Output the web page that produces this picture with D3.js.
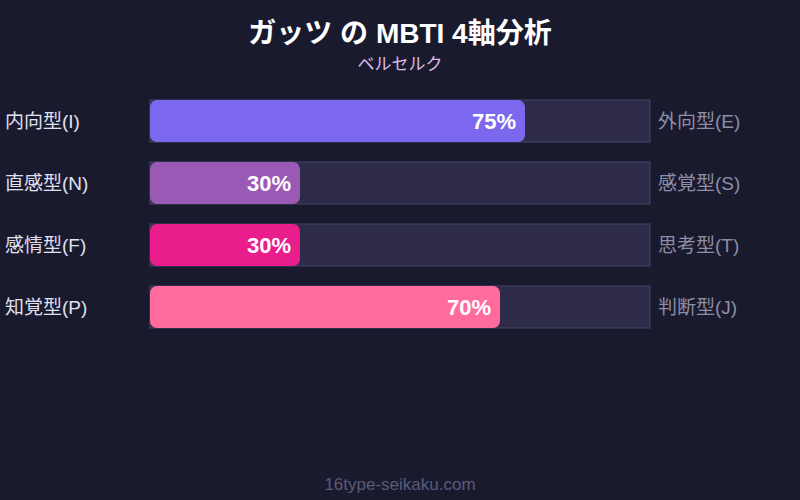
<!DOCTYPE html>
<html><head><meta charset="utf-8">
<script src="https://cdn.jsdelivr.net/npm/d3@7"></script>
<style>html,body{margin:0;padding:0;background:#1a1a2e;}svg{display:block;}</style>
</head><body>
<script>
const leftLabels = ["内向型(I)", "直感型(N)", "感情型(F)", "知覚型(P)"];
const rightLabels = ["外向型(E)", "感覚型(S)", "思考型(T)", "判断型(J)"];
const values = [75, 30, 30, 70];
const colors = ["#7b68ee", "#9b59b6", "#e91e8c", "#ff6b9d"];
const title = "ガッツ の MBTI 4軸分析";
const subtitle = "ベルセルク";
const footer = "16type-seikaku.com";

const W = 800, H = 500;
const font = "'Liberation Sans', 'Noto Sans CJK JP', sans-serif";
const svg = d3.select("body").append("svg").attr("width", W).attr("height", H);
svg.append("rect").attr("width", W).attr("height", H).attr("fill", "#1a1a2e");

const x = d3.scaleLinear().domain([0, 100]).range([150, 650]);
const y = d3.scaleBand().domain(d3.range(values.length)).range([100, 328]).paddingInner(20 / 62).paddingOuter(0);

svg.append("text").attr("x", 400).attr("y", 43).attr("text-anchor", "middle")
  .attr("font-family", font).attr("font-size", 28).attr("font-weight", "bold").attr("fill", "#ffffff").text(title);
svg.append("text").attr("x", 400).attr("y", 70).attr("text-anchor", "middle")
  .attr("font-family", font).attr("font-size", 17).attr("fill", "#dcbce8").text(subtitle);

const g = svg.selectAll("g.row").data(values).enter().append("g").attr("class", "row");
g.append("rect").attr("x", x(0)).attr("y", (d, i) => y(i)).attr("width", x(100) - x(0)).attr("height", y.bandwidth())
  .attr("fill", "#2d2b47").attr("stroke", "#454566").attr("stroke-width", 1);
g.append("rect").attr("x", x(0)).attr("y", (d, i) => y(i)).attr("width", d => x(d) - x(0)).attr("height", y.bandwidth())
  .attr("rx", 7).attr("fill", (d, i) => colors[i]);
g.append("text").attr("x", d => x(d) - 9).attr("y", (d, i) => y(i) + y.bandwidth() / 2 + 8)
  .attr("text-anchor", "end").attr("font-family", font).attr("font-size", 22).attr("font-weight", "bold")
  .attr("fill", "#ffffff").text(d => d + "%");
g.append("text").attr("x", 5).attr("y", (d, i) => y(i) + y.bandwidth() / 2 + 7)
  .attr("font-family", font).attr("font-size", 19).attr("fill", "#e0e0f0").text((d, i) => leftLabels[i]);
g.append("text").attr("x", 658).attr("y", (d, i) => y(i) + y.bandwidth() / 2 + 7)
  .attr("font-family", font).attr("font-size", 19).attr("fill", "#8e8ea6").text((d, i) => rightLabels[i]);

svg.append("text").attr("x", 400).attr("y", 490).attr("text-anchor", "middle")
  .attr("font-family", font).attr("font-size", 17).attr("fill", "#5a5a7a").text(footer);
</script>
</body></html>
